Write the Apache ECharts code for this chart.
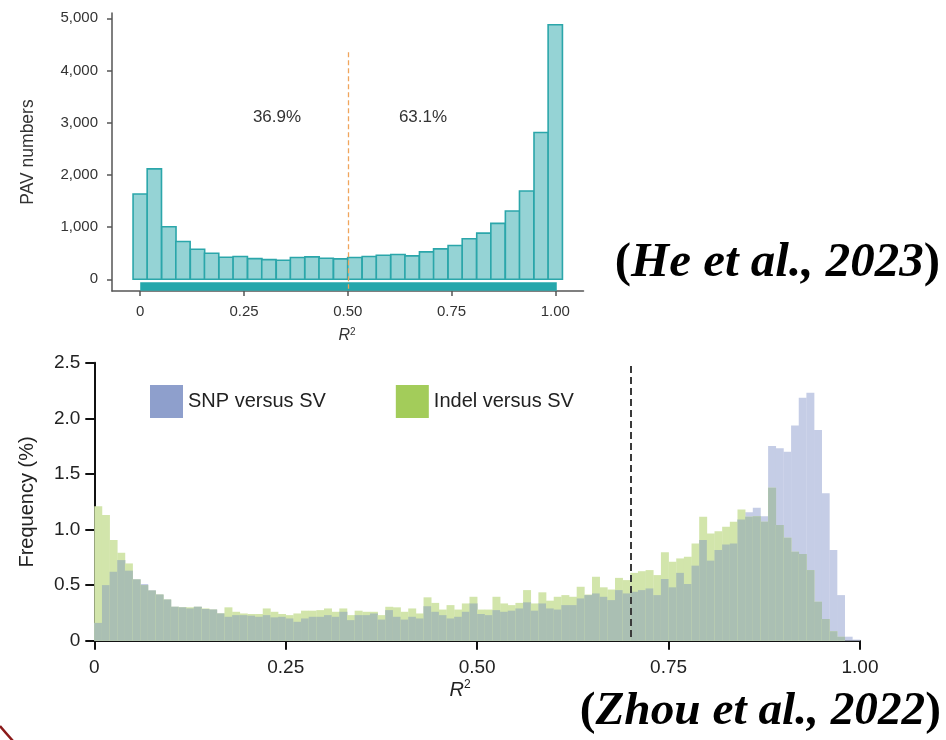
<!DOCTYPE html>
<html>
<head>
<meta charset="utf-8">
<script src="https://cdn.jsdelivr.net/npm/echarts@6/dist/echarts.min.js"></script>
<style>
html,body{margin:0;padding:0;background:#fff;}
#chart{width:946px;height:740px;}
</style>
</head>
<body>
<div id="chart"></div>
<script>
// ---------- Top panel (He et al., 2023): PAV numbers by R^2 bin ----------
const pavR2 = [0.000, 0.034, 0.069, 0.103, 0.138, 0.172, 0.207, 0.241, 0.276, 0.310,
               0.345, 0.379, 0.414, 0.448, 0.483, 0.517, 0.552, 0.586, 0.621, 0.655,
               0.690, 0.724, 0.759, 0.793, 0.828, 0.862, 0.897, 0.931, 0.966, 1.000];
const pavBinWidth = 0.0345;
const pavCounts = [1635, 2115, 1006, 724, 577, 500, 423, 436, 397, 378,
                   365, 417, 430, 404, 391, 417, 436, 462, 474, 449,
                   526, 583, 647, 776, 885, 1071, 1308, 1692, 2814, 4878];
const pavSplit = 0.5;
const pavShareLeft = '36.9%';
const pavShareRight = '63.1%';
const topXTicks = [0, 0.25, 0.5, 0.75, 1.0];
const topYTicks = [0, 1000, 2000, 3000, 4000, 5000];

// ---------- Bottom panel (Zhou et al., 2022): frequency (%) by R^2 bin ----------
const ldBinStart = [
  0.00, 0.01, 0.02, 0.03, 0.04, 0.05, 0.06, 0.07, 0.08, 0.09,
  0.10, 0.11, 0.12, 0.13, 0.14, 0.15, 0.16, 0.17, 0.18, 0.19,
  0.20, 0.21, 0.22, 0.23, 0.24, 0.25, 0.26, 0.27, 0.28, 0.29,
  0.30, 0.31, 0.32, 0.33, 0.34, 0.35, 0.36, 0.37, 0.38, 0.39,
  0.40, 0.41, 0.42, 0.43, 0.44, 0.45, 0.46, 0.47, 0.48, 0.49,
  0.50, 0.51, 0.52, 0.53, 0.54, 0.55, 0.56, 0.57, 0.58, 0.59,
  0.60, 0.61, 0.62, 0.63, 0.64, 0.65, 0.66, 0.67, 0.68, 0.69,
  0.70, 0.71, 0.72, 0.73, 0.74, 0.75, 0.76, 0.77, 0.78, 0.79,
  0.80, 0.81, 0.82, 0.83, 0.84, 0.85, 0.86, 0.87, 0.88, 0.89,
  0.90, 0.91, 0.92, 0.93, 0.94, 0.95, 0.96, 0.97, 0.98, 0.99];
const ldBinWidth = 0.01;
const snpVsSv = [
  0.16, 0.50, 0.62, 0.725, 0.63, 0.555, 0.51, 0.455, 0.415, 0.37,
  0.305, 0.30, 0.29, 0.305, 0.285, 0.28, 0.245, 0.215, 0.23, 0.23,
  0.225, 0.215, 0.23, 0.21, 0.215, 0.20, 0.17, 0.20, 0.215, 0.215,
  0.23, 0.215, 0.26, 0.185, 0.23, 0.23, 0.245, 0.19, 0.275, 0.215,
  0.19, 0.215, 0.20, 0.31, 0.26, 0.23, 0.20, 0.215, 0.26, 0.335,
  0.24, 0.23, 0.275, 0.26, 0.27, 0.29, 0.345, 0.27, 0.335, 0.29,
  0.28, 0.32, 0.32, 0.38, 0.41, 0.425, 0.395, 0.365, 0.455, 0.425,
  0.44, 0.455, 0.47, 0.41, 0.555, 0.48, 0.61, 0.51, 0.675, 0.905,
  0.72, 0.815, 0.865, 0.875, 1.09, 1.155, 1.195, 1.12, 1.75, 1.73,
  1.70, 1.935, 2.185, 2.23, 1.895, 1.325, 0.815, 0.41, 0.036, 0.01];
const indelVsSv = [
  1.21, 1.13, 0.905, 0.79, 0.695, 0.55, 0.50, 0.45, 0.415, 0.37,
  0.305, 0.30, 0.30, 0.305, 0.29, 0.28, 0.245, 0.30, 0.26, 0.245,
  0.24, 0.24, 0.29, 0.26, 0.24, 0.23, 0.245, 0.27, 0.27, 0.275,
  0.29, 0.26, 0.29, 0.23, 0.27, 0.26, 0.26, 0.23, 0.305, 0.30,
  0.26, 0.29, 0.245, 0.39, 0.34, 0.28, 0.32, 0.28, 0.335, 0.395,
  0.28, 0.28, 0.395, 0.335, 0.32, 0.34, 0.455, 0.335, 0.435, 0.36,
  0.395, 0.41, 0.395, 0.485, 0.415, 0.575, 0.48, 0.46, 0.565, 0.545,
  0.61, 0.625, 0.635, 0.59, 0.795, 0.71, 0.74, 0.755, 0.875, 1.115,
  0.965, 0.985, 1.025, 1.07, 1.18, 1.115, 1.12, 1.07, 1.375, 1.04,
  0.925, 0.80, 0.78, 0.635, 0.35, 0.195, 0.085, 0.035, 0.0, 0.0];
const ldThreshold = 0.70;
const seriesNames = ['SNP versus SV', 'Indel versus SV'];

const SANS = '"Liberation Sans", Arial, Helvetica, sans-serif';
const SERIF = '"Liberation Serif", "Times New Roman", serif';

const chart = echarts.init(document.getElementById('chart'), null, {renderer: 'canvas'});

function fmtR2(v) { return v === 0 ? '0' : v.toFixed(2); }

const option = {
  animation: false,
  backgroundColor: '#ffffff',
  grid: [
    {left: 112, top: 13, width: 471.5, height: 278},
    {left: 94.3, top: 362.7, width: 765.7, height: 278}
  ],
  xAxis: [
    {
      gridIndex: 0, type: 'value', min: -0.068, max: 1.068,
      axisLine: {show: true, onZero: false, lineStyle: {color: '#555', width: 1.5}},
      axisTick: {show: true, customValues: topXTicks, length: 5, lineStyle: {color: '#555', width: 1.5}},
      axisLabel: {show: true, customValues: topXTicks, formatter: fmtR2, margin: 13,
                  fontFamily: SANS, fontSize: 15, color: '#333'},
      splitLine: {show: false}
    },
    {
      gridIndex: 1, type: 'value', min: 0, max: 1, interval: 0.25,
      axisLine: {show: true, onZero: false, lineStyle: {color: '#111', width: 2}},
      axisTick: {show: true, length: 9, lineStyle: {color: '#111', width: 2}},
      axisLabel: {show: true, formatter: fmtR2, margin: 18,
                  fontFamily: SANS, fontSize: 19, color: '#222'},
      splitLine: {show: false}
    }
  ],
  yAxis: [
    {
      gridIndex: 0, type: 'value', min: -224, max: 5102,
      axisLine: {show: true, onZero: false, lineStyle: {color: '#555', width: 1.5}},
      axisTick: {show: true, customValues: topYTicks, length: 5, lineStyle: {color: '#555', width: 1.5}},
      axisLabel: {show: true, customValues: topYTicks, margin: 14,
                  formatter: v => v.toLocaleString('en-US'),
                  fontFamily: SANS, fontSize: 15, color: '#333'},
      splitLine: {show: false}
    },
    {
      gridIndex: 1, type: 'value', min: 0, max: 2.5, interval: 0.5,
      axisLine: {show: true, onZero: false, lineStyle: {color: '#111', width: 2}},
      axisTick: {show: true, length: 9, lineStyle: {color: '#111', width: 2}},
      axisLabel: {show: true, margin: 14,
                  formatter: v => v === 0 ? '0' : v.toFixed(1),
                  fontFamily: SANS, fontSize: 19, color: '#222'},
      splitLine: {show: false}
    }
  ],
  legend: {
    left: 145, top: 380, icon: 'rect', itemWidth: 33, itemHeight: 33, itemGap: 70,
    data: seriesNames,
    textStyle: {fontFamily: SANS, fontSize: 20, color: '#222', padding: [0, 0, 0, 0]},
    selectedMode: false
  },
  series: [
    // top histogram bars
    {
      type: 'custom', name: 'PAV numbers', xAxisIndex: 0, yAxisIndex: 0,
      data: pavR2.map((x, i) => [x, pavCounts[i]]),
      encode: {x: 0, y: 1},
      renderItem: function (params, api) {
        const x = api.value(0), y = api.value(1);
        const p0 = api.coord([x - pavBinWidth / 2, y]);
        const p1 = api.coord([x + pavBinWidth / 2, 0]);
        return {type: 'rect',
          shape: {x: p0[0], y: p0[1], width: p1[0] - p0[0], height: p1[1] - p0[1]},
          style: {fill: '#95d3d5', stroke: '#2ba6aa', lineWidth: 1.6}};
      },
      markLine: {
        silent: true, symbol: ['none', 'none'], label: {show: false},
        lineStyle: {color: '#f0a55c', width: 1.3, type: [5, 3]},
        data: [[{coord: [pavSplit, 4350]}, {coord: [pavSplit, -180]}]]
      },
      z: 2
    },
    // top thick range bar under the axis
    {
      type: 'custom', name: 'range', xAxisIndex: 0, yAxisIndex: 0,
      data: [[pavR2[0], pavR2[pavR2.length - 1], 0]],
      encode: {x: [0, 1], y: 2},
      renderItem: function (params, api) {
        const p0 = api.coord([api.value(0), api.value(2)]);
        const p1 = api.coord([api.value(1), api.value(2)]);
        return {type: 'rect',
          shape: {x: p0[0], y: p0[1] + 3, width: p1[0] - p0[0] + 1.5, height: 8.5},
          style: {fill: '#26a7ab'}};
      },
      clip: false, z: 1
    },
    // bottom: SNP versus SV
    {
      type: 'custom', name: seriesNames[0], xAxisIndex: 1, yAxisIndex: 1,
      itemStyle: {color: '#8e9fcc'},
      data: ldBinStart.map((x, i) => [x, snpVsSv[i]]),
      encode: {x: 0, y: 1},
      renderItem: function (params, api) {
        const x = api.value(0), y = api.value(1);
        const p0 = api.coord([x, y]);
        const p1 = api.coord([x + ldBinWidth, 0]);
        return {type: 'rect',
          shape: {x: p0[0], y: p0[1], width: p1[0] - p0[0] + 0.3, height: p1[1] - p0[1]},
          style: {fill: '#c5cde6'}};
      },
      z: 2
    },
    // bottom: Indel versus SV (with overlap tone where it covers SNP bars)
    {
      type: 'custom', name: seriesNames[1], xAxisIndex: 1, yAxisIndex: 1,
      itemStyle: {color: '#a3cc5a'},
      data: ldBinStart.map((x, i) => [x, indelVsSv[i], snpVsSv[i]]),
      encode: {x: 0, y: 1},
      renderItem: function (params, api) {
        const x = api.value(0), y = api.value(1), s = api.value(2);
        const p0 = api.coord([x, y]);
        const p1 = api.coord([x + ldBinWidth, 0]);
        const pm = api.coord([x, Math.min(y, s)]);
        const w = p1[0] - p0[0] + 0.3;
        return {type: 'group', children: [
          {type: 'rect', shape: {x: p0[0], y: p0[1], width: w, height: p1[1] - p0[1]},
           style: {fill: '#d2e5ab'}},
          {type: 'rect', shape: {x: p0[0], y: pm[1], width: w, height: p1[1] - pm[1]},
           style: {fill: '#aabfb3'}}
        ]};
      },
      markLine: {
        silent: true, symbol: ['none', 'none'], label: {show: false},
        lineStyle: {color: '#3a3a3a', width: 2, type: [7, 4]},
        data: [[{coord: [ldThreshold, 2.47]}, {coord: [ldThreshold, 0]}]]
      },
      z: 3
    }
  ],
  graphic: [
    {type: 'text', x: 28, y: 152, rotation: Math.PI / 2,
     style: {text: 'PAV numbers', align: 'center', verticalAlign: 'middle',
             fontFamily: SANS, fontSize: 17.5, fill: '#333'}},
    {type: 'text', x: 347, y: 336,
     style: {text: '{r|R}{s|2}', align: 'center', verticalAlign: 'middle',
             rich: {r: {fontFamily: SANS, fontStyle: 'italic', fontSize: 16, fill: '#333', lineHeight: 18},
                    s: {fontFamily: SANS, fontSize: 10, fill: '#333', verticalAlign: 'top', lineHeight: 18}}}},
    {type: 'text', x: 277, y: 117,
     style: {text: pavShareLeft, align: 'center', verticalAlign: 'middle',
             fontFamily: SANS, fontSize: 17, fill: '#333'}},
    {type: 'text', x: 423, y: 117,
     style: {text: pavShareRight, align: 'center', verticalAlign: 'middle',
             fontFamily: SANS, fontSize: 17, fill: '#333'}},
    {type: 'text', x: 27, y: 502, rotation: Math.PI / 2,
     style: {text: 'Frequency (%)', align: 'center', verticalAlign: 'middle',
             fontFamily: SANS, fontSize: 20, fill: '#222'}},
    {type: 'text', x: 460, y: 690,
     style: {text: '{r|R}{s|2}', align: 'center', verticalAlign: 'middle',
             rich: {r: {fontFamily: SANS, fontStyle: 'italic', fontSize: 20, fill: '#222', lineHeight: 22},
                    s: {fontFamily: SANS, fontSize: 12, fill: '#222', verticalAlign: 'top', lineHeight: 22}}}},
    {type: 'text', x: 940, y: 263,
     style: {text: '{p|(}{i|He et al., 2023}{p|)}', align: 'right', verticalAlign: 'middle',
             rich: {p: {fontFamily: SERIF, fontWeight: 'bold', fontSize: 49, fill: '#000'},
                    i: {fontFamily: SERIF, fontWeight: 'bold', fontStyle: 'italic', fontSize: 49, fill: '#000'}}}},
    {type: 'text', x: 941, y: 712,
     style: {text: '{p|(}{i|Zhou et al., 2022}{p|)}', align: 'right', verticalAlign: 'middle',
             rich: {p: {fontFamily: SERIF, fontWeight: 'bold', fontSize: 47.3, fill: '#000'},
                    i: {fontFamily: SERIF, fontWeight: 'bold', fontStyle: 'italic', fontSize: 47.3, fill: '#000'}}}},
    {type: 'bezierCurve',
     shape: {x1: 0, y1: 726, x2: 13, y2: 741, cpx1: 5, cpy1: 732},
     style: {stroke: '#8b1a1a', lineWidth: 2.5, fill: null}}
  ]
};
chart.setOption(option);
</script>
</body>
</html>
